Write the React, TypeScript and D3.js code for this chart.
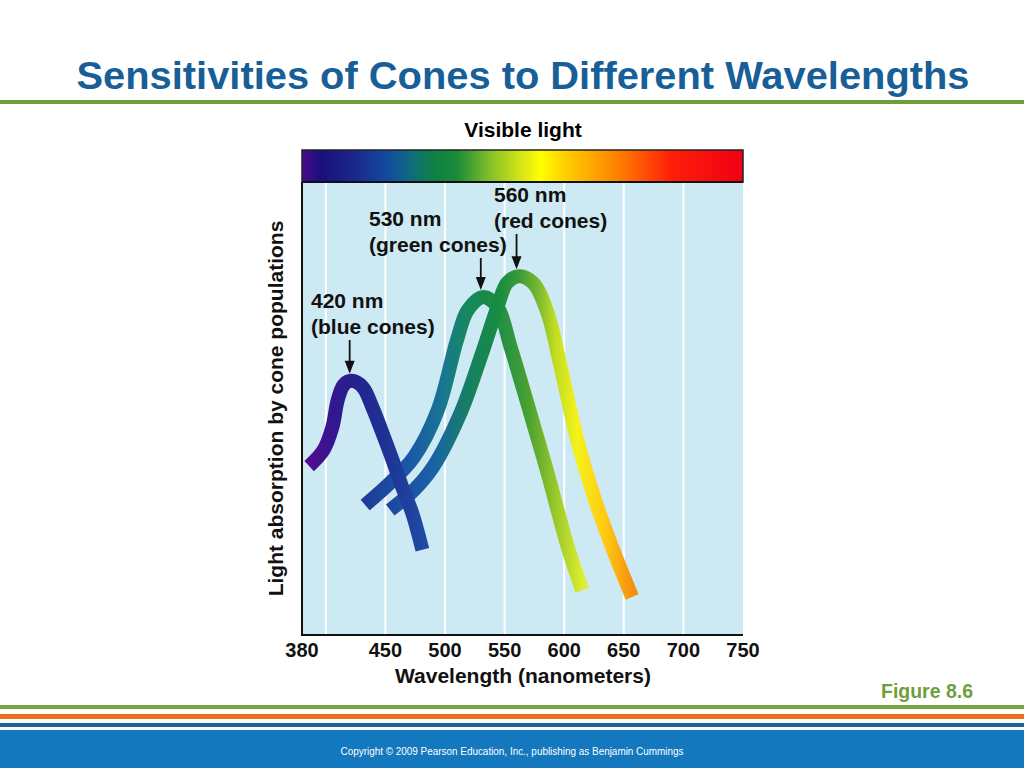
import React from 'react';
import * as d3 from 'd3';

// wavelength (nm) vs relative absorption
const blueNm = [386, 398, 405.5, 410, 415, 421.5, 431, 439, 447.5, 456, 464, 472.5, 481];
const blueAbs = [37.3, 40.8, 45.9, 51.9, 55.2, 56.1, 54.7, 50.3, 44.6, 38.6, 32.7, 26.9, 18.8];
const greenNm = [433, 454, 474, 494, 510, 519, 532, 544, 555, 569, 586, 603, 615];
const greenAbs = [28.7, 33.6, 39.3, 49.7, 65.1, 71.7, 74.6, 72.4, 63.6, 51.2, 35.8, 19.4, 9.9];
const redNm = [454, 474, 490, 513, 530, 544, 552, 562, 574, 586, 597, 611, 625, 641, 657];
const redAbs = [27.6, 32, 37.1, 49, 61.4, 72.4, 77.7, 79.2, 77.7, 71.1, 59.2, 43, 30.5, 18.8, 8.4];

const peakNm = [420, 530, 560];
const peakLabels = [['420 nm', '(blue cones)'], ['530 nm', '(green cones)'], ['560 nm', '(red cones)']];

const xTicks = [380, 450, 500, 550, 600, 650, 700, 750];
const gridNm = [400, 450, 500, 550, 600, 650, 700];

const SPECTRUM = [
  [380, '#4c0a8c'], [395, '#1a0f7c'], [420, '#1a2488'], [450, '#1448a0'],
  [470, '#0f6a82'], [490, '#0e8044'], [510, '#1a8a38'], [540, '#8cc428'],
  [570, '#e6ee10'], [580, '#ffff00'], [600, '#ffd000'], [640, '#ff8a00'],
  [690, '#ff1e08'], [750, '#f00014'],
] as const;

// colour stops for each tube, keyed by wavelength
const BLUE_STOPS = [[386, '#520c92'], [405, '#34168e'], [421, '#26208e'], [450, '#1e3294'], [481, '#1e4aa2']] as const;
const GREEN_STOPS = [
  [433, '#1e3c98'], [470, '#1a58a8'], [500, '#187890'], [520, '#168a5a'], [535, '#188a48'],
  [552, '#2a9240'], [570, '#4aa230'], [595, '#a0cc2a'], [615, '#dcee2e'],
] as const;
const RED_STOPS = [
  [454, '#1e48a0'], [490, '#1a62a8'], [520, '#178062'], [545, '#178c42'], [562, '#3a9a38'],
  [578, '#78b830'], [592, '#c0dc22'], [611, '#f6f21a'], [635, '#ffc812'], [657, '#f59010'],
] as const;

const FONT = '"Liberation Sans", Arial, sans-serif';
const NARROW = '"Liberation Sans Narrow", "Arial Narrow", "Liberation Sans", Arial, sans-serif';

export default function App() {
  const x = d3.scaleLinear().domain([380, 750]).range([302, 743]);
  const y = d3.scaleLinear().domain([0, 100]).range([635, 182]);
  const top = 150;
  const line = d3.line<[number, number]>().x(d => x(d[0])).y(d => y(d[1])).curve(d3.curveCatmullRom.alpha(0.5));
  const zip = (a: number[], b: number[]) => a.map((v, i) => [v, b[i]] as [number, number]);
  // draw order: green, red over green, blue on top
  const curves = [
    { id: 'g', pts: zip(greenNm, greenAbs), stops: GREEN_STOPS },
    { id: 'r', pts: zip(redNm, redAbs), stops: RED_STOPS },
    { id: 'b', pts: zip(blueNm, blueAbs), stops: BLUE_STOPS },
  ];
  const peakAbs = [d3.max(blueAbs)!, d3.max(greenAbs)!, d3.max(redAbs)!];
  const labelX = [311, 369, 494];
  const labelY = [308, 226, 202];
  const span = 750 - 380;

  return (
    <svg width={1024} height={768} style={{ position: 'absolute', left: 0, top: 0, background: '#fff' }}>
      <defs>
        <linearGradient id="spec" gradientUnits="userSpaceOnUse" x1={x(380)} x2={x(750)} y1={0} y2={0}>
          {SPECTRUM.map(([nm, c]) => <stop key={nm} offset={(nm - 380) / span} stopColor={c} />)}
        </linearGradient>
        {curves.map(c => (
          <linearGradient key={c.id} id={'tube-' + c.id} gradientUnits="userSpaceOnUse"
            x1={x(c.stops[0][0])} x2={x(c.stops[c.stops.length - 1][0])} y1={0} y2={0}>
            {c.stops.map(([nm, col]) => (
              <stop key={nm} offset={(nm - c.stops[0][0]) / (c.stops[c.stops.length - 1][0] - c.stops[0][0])} stopColor={col} />
            ))}
          </linearGradient>
        ))}
      </defs>

      {/* title */}
      <text x={523} y={89} textAnchor="middle" fontFamily={NARROW} fontWeight="bold" fontSize={39}
        fill="#185f98" textLength={893} lengthAdjust="spacingAndGlyphs">
        Sensitivities of Cones to Different Wavelengths
      </text>
      <rect x={0} y={100} width={1024} height={4} fill="#6e9f3c" />

      {/* spectrum bar */}
      <text x={523} y={137} textAnchor="middle" fontFamily={FONT} fontWeight="bold" fontSize={21}>Visible light</text>
      <rect x={x(380)} y={top} width={x(750) - x(380)} height={y(100) - top} fill="url(#spec)" stroke="#222" strokeWidth={1.5} />

      {/* plot area */}
      <rect x={x(380)} y={y(100)} width={x(750) - x(380)} height={y(0) - y(100)} fill="#cde9f3" />
      {gridNm.map(nm => (
        <line key={nm} x1={x(nm)} x2={x(nm)} y1={y(100) + 1} y2={y(0)} stroke="#fff" strokeWidth={2} />
      ))}
      <line x1={x(380)} x2={x(380)} y1={y(100)} y2={y(0) + 1} stroke="#111" strokeWidth={2} />
      <line x1={x(380) - 1} x2={x(750)} y1={y(0)} y2={y(0)} stroke="#111" strokeWidth={2} />
      <line x1={x(380)} x2={x(750)} y1={y(100)} y2={y(100)} stroke="#111" strokeWidth={2} />

      {curves.map(c => (
        <path key={c.id} d={line(c.pts) || ''} fill="none" stroke={`url(#tube-${c.id})`} strokeWidth={14} strokeLinecap="butt" />
      ))}

      {/* peak annotations */}
      {peakNm.map((nm, i) => {
        const ax = x(nm);
        const tip = y(peakAbs[i]) - 7;
        const start = labelY[i] + 32;
        return (
          <g key={nm}>
            <text fontFamily={FONT} fontWeight="bold" fontSize={21} fill="#111">
              <tspan x={labelX[i]} y={labelY[i]}>{peakLabels[i][0]}</tspan>
              <tspan x={labelX[i]} y={labelY[i] + 26}>{peakLabels[i][1]}</tspan>
            </text>
            <line x1={ax} x2={ax} y1={start} y2={tip - 8} stroke="#111" strokeWidth={1.8} />
            <path d={`M${ax - 5},${tip - 13}L${ax + 5},${tip - 13}L${ax},${tip}Z`} fill="#111" />
          </g>
        );
      })}

      {/* axes text */}
      {xTicks.map(t => (
        <text key={t} x={x(t)} y={657} textAnchor="middle" fontFamily={FONT} fontWeight="bold" fontSize={20} fill="#111">{t}</text>
      ))}
      <text x={523} y={683} textAnchor="middle" fontFamily={FONT} fontWeight="bold" fontSize={21} fill="#111">
        Wavelength (nanometers)
      </text>
      <text transform={`translate(283,${(y(0) + y(100)) / 2}) rotate(-90)`} textAnchor="middle"
        fontFamily={FONT} fontWeight="bold" fontSize={21} fill="#111">
        Light absorption by cone populations
      </text>

      {/* footer */}
      <text x={973} y={698} textAnchor="end" fontFamily={NARROW} fontWeight="bold" fontSize={20} fill="#6e9f3c"
        textLength={92} lengthAdjust="spacingAndGlyphs">Figure 8.6</text>
      <rect x={0} y={705} width={1024} height={4} fill="#74a844" />
      <rect x={0} y={714} width={1024} height={5} fill="#ef6f1e" />
      <rect x={0} y={723} width={1024} height={4} fill="#1c64a0" />
      <rect x={0} y={730} width={1024} height={38} fill="#1478be" />
      <text x={512} y={755} textAnchor="middle" fontFamily={NARROW} fontSize={10} fill="#fff"
        textLength={343} lengthAdjust="spacingAndGlyphs">
        Copyright © 2009 Pearson Education, Inc., publishing as Benjamin Cummings
      </text>
    </svg>
  );
}
